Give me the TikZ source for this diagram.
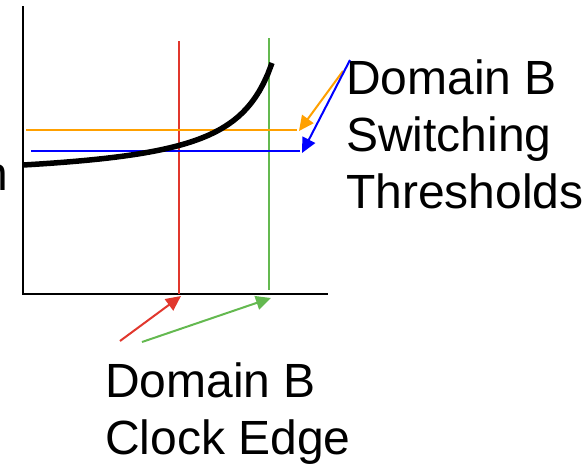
\documentclass[tikz,border=0pt]{standalone}
\usepackage{fontspec}
\setmainfont{Liberation Sans}
\usetikzlibrary{arrows.meta}
\definecolor{edgered}{RGB}{225,55,45}
\definecolor{edgegreen}{RGB}{100,185,80}
\definecolor{throrange}{RGB}{255,160,0}
\definecolor{thrblue}{RGB}{0,0,255}
\begin{document}
\begin{tikzpicture}[x=1pt,y=-1pt,
    lbl/.style={font=\fontsize{48}{57}\selectfont, inner sep=0pt, align=left},
    ptr/.style={line width=2pt, -{Triangle[length=15pt,width=14pt]}}]
    \useasboundingbox (0,0) rectangle (587,466);

    % Axes
    \draw[line width=2.5pt] (23,6) -- (23,294) -- (328,294);

    % Clock edges
    \coordinate (rtop) at (179,41); \coordinate (rbot) at (179,294);
    \coordinate (gtop) at (269,38); \coordinate (gbot) at (269,290);
    \draw[edgered, line width=1.5pt] (rtop) -- (rbot);
    \draw[edgegreen, line width=1.5pt] (gtop) -- (gbot);

    % Thresholds
    \coordinate (oa) at (26,130); \coordinate (ob) at (297,130);
    \coordinate (ba) at (31,151); \coordinate (bb) at (300,151);
    \draw[throrange, line width=2pt] (oa) -- (ob);
    \draw[thrblue, line width=2pt] (ba) -- (bb);

    % Transfer curve
    \draw[line width=5.5pt, samples=60, domain=23:272]
        plot (\x, {181.8 - 4871/(313-\x)});

    % Labels
    \node[lbl, anchor=base east] (cut) at (8,190) {n};
    \node[lbl, anchor=north west] (thr) at (346,60) {Domain B\\Switching\\Thresholds};
    \node[lbl, anchor=north west] (clk) at (105,363) {Domain B\\Clock Edge};

    % Pointers
    \coordinate (os) at (343,71); \coordinate (bs) at (350,60);
    \coordinate (rs) at (120,341); \coordinate (gs) at (142,342);
    \coordinate (ot) at (299,131); \coordinate (bt) at (302,153);
    \coordinate (rt) at (181,296); \coordinate (gt) at (271,298);
    \draw[ptr, throrange] (os) -- (ot);
    \draw[ptr, thrblue] (bs) -- (bt);
    \draw[ptr, edgered] (rs) -- (rt);
    \draw[ptr, edgegreen] (gs) -- (gt);
\end{tikzpicture}
\end{document}
